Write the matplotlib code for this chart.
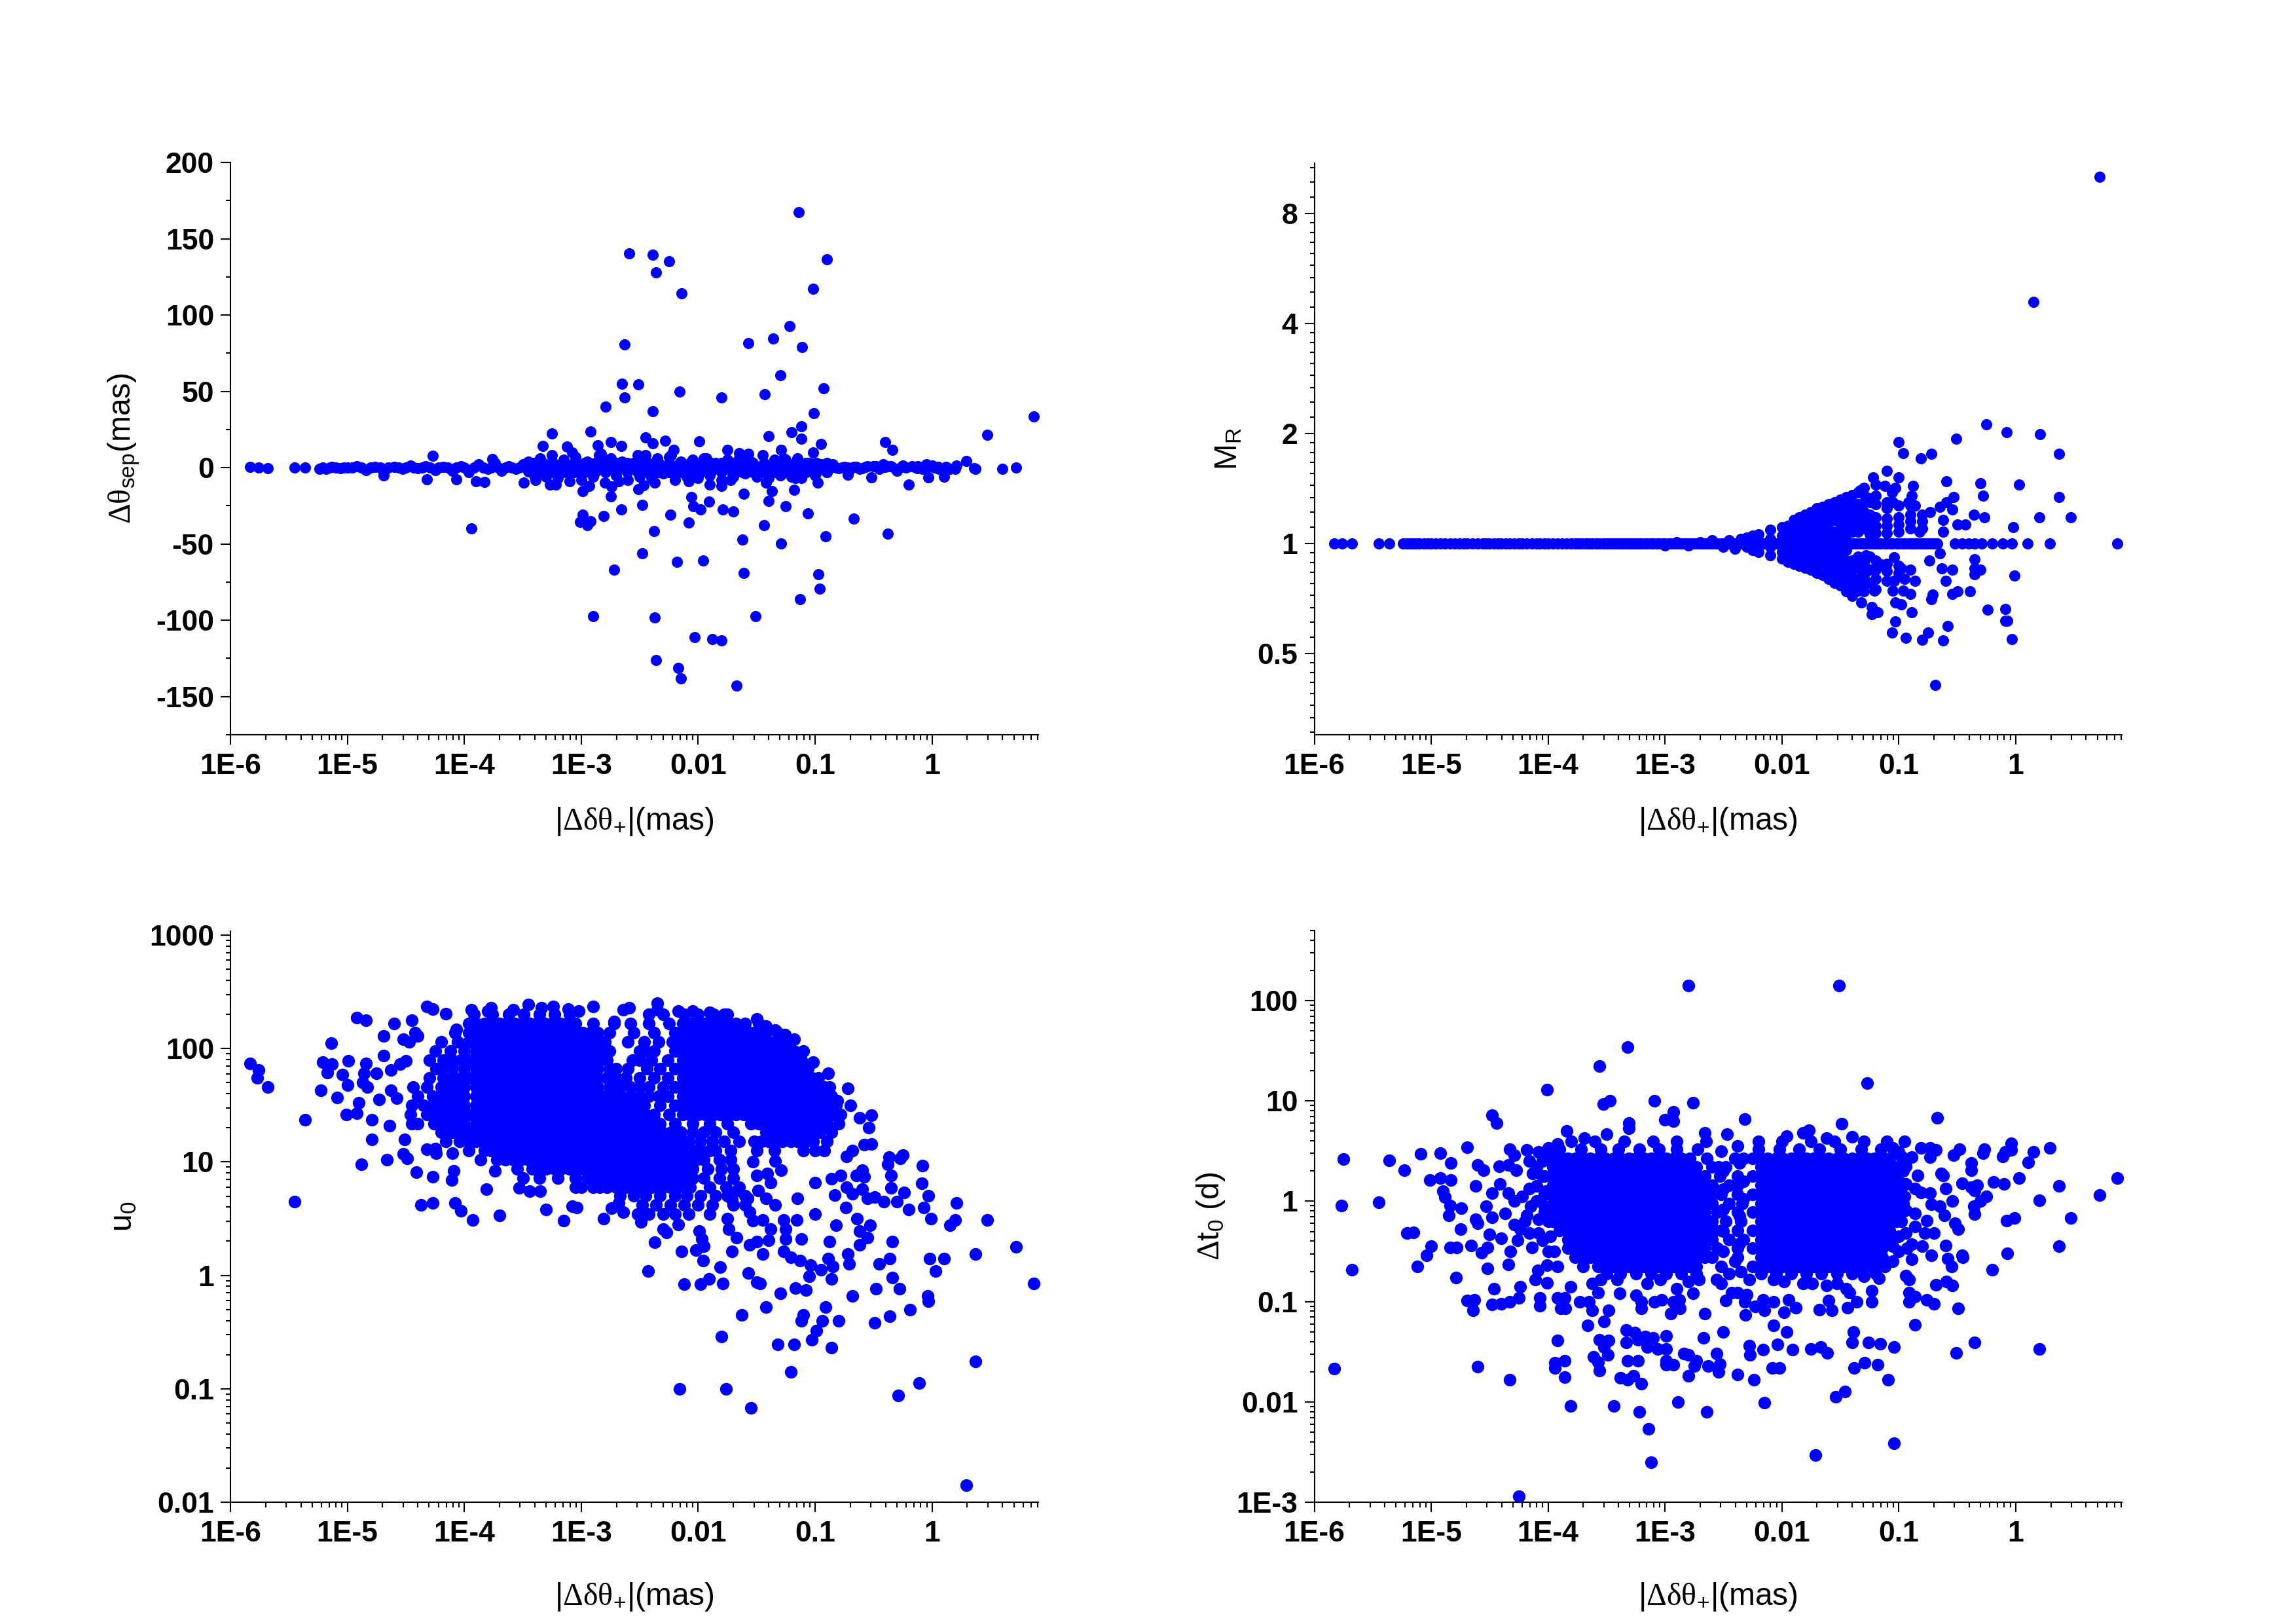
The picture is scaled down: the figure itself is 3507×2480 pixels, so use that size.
import numpy as np
import matplotlib
matplotlib.use('Agg')
import matplotlib.pyplot as plt
from matplotlib.ticker import FixedLocator, LogLocator, MultipleLocator, NullFormatter

plt.rcParams['font.family'] = ['Liberation Sans', 'DejaVu Sans']
plt.rcParams['mathtext.fontset'] = 'custom'
plt.rcParams['mathtext.rm'] = 'Liberation Sans'
plt.rcParams['mathtext.tt'] = 'Liberation Serif'
plt.rcParams['mathtext.default'] = 'rm'
plt.rcParams['axes.unicode_minus'] = False

# all x values (and the y values of the two log-log panels) are log10
x_ticks = [1e-6, 1e-5, 1e-4, 1e-3, 0.01, 0.1, 1]
x_labels = ['1E-6', '1E-5', '1E-4', '1E-3', '0.01', '0.1', '1']

# --- the thin line of points that panels 1 and 2 have in common
band_x = [-5.83, -5.76, -5.68, -5.45, -5.36, -5.24, -5.18, -5.13, -5.06, -5.0, -4.92, -4.84, -4.76, -4.69, -4.6,
          -4.53, -4.46, -4.4, -4.33, -4.25, -4.18, -4.1, -4.03, -3.96, -3.88, -3.8, -3.74, -3.68, -3.62, -3.56,
          -3.5, -3.45, -3.4, -3.35, -3.3, -3.25, -3.2, -3.15, -3.1, -3.05, -3.0, -2.95, -2.9, -2.85, -2.8, -2.75,
          -2.7, -2.65, -2.6, -2.55, -2.5, -2.45, -2.4, -2.35, -2.3, -2.25, -2.2, -2.15, -2.1, -2.05, -2.0, -1.95,
          -1.9, -1.85, -1.8, -1.75, -1.7, -1.65, -1.6, -1.55, -1.5, -1.45, -1.4, -1.35, -1.3, -1.25, -1.2, -1.15,
          -1.1, -1.05, -1.0, -0.95, -0.9, -0.85, -0.8, -0.75, -0.7, -0.65, -0.6, -0.55]
sep_band = [0.5, 0, -0.3, 0, 0.2, -1, -0.8, 0.3, -0.5, 0.2, 0.8, -1.5, 0.5, -3, 0.4, -1, 1.5, -0.5, 1, -1.5, 0.5, -2,
            1, -3, 2, -1, 3, -2, 1, -1, 2, -2.5, 3, -1, 2, -3, 1, 3, -2, 1, -2, 2, -1, 3, -2.5, 1, -1, 2, -2, 3,
            -1, 2, -3, 1, -2, 2, -1, 3, -2, 1, -3, 2, -1, 2, -2, 1, -2, 3, -1, 2, -2, 1, -3, 2, -1, 2, -1, 1.5,
            -2, 1, -1, 0.5, -1, 1, -0.5, 0.5, -1, 0.5, -0.5, 1]
band_fill_x = [-5.21, -5.15, -5.1, -5.03, -4.96, -4.88, -4.8, -4.72, -4.65, -4.56, -4.5, -4.43, -4.36, -4.29, -4.22,
               -4.14, -4.07, -4.0, -3.92, -3.84, -3.77, -3.71, -3.65, -3.59, -3.53, -3.47, -3.42, -3.37, -3.32, -3.27,
               -3.22, -3.17, -3.12, -3.07, -3.02, -2.97, -2.92, -2.87, -2.82, -2.77, -2.72, -2.67, -2.62, -2.57, -2.52,
               -2.47, -2.42, -2.37, -2.32, -2.27, -2.22, -2.17, -2.12, -2.07, -2.02, -1.97, -1.92, -1.87, -1.82, -1.77,
               -1.72, -1.67, -1.62, -1.57, -1.52, -1.47, -1.42, -1.37, -1.32, -1.27, -1.22, -1.17, -1.12, -1.07, -1.02,
               -0.97, -0.92, -0.87, -0.82, -0.77, -0.72]
# the solid middle of the band in panel 1, about +-3 mas wide
sep_thick_x = [-3.42, -3.33, -3.24, -3.15, -3.06, -2.97, -2.88, -2.79, -2.7, -2.61, -2.52, -2.43, -2.34, -2.25, -2.16,
               -2.07, -1.98, -1.89, -1.8, -1.71, -1.62, -1.53, -1.44, -1.35, -1.26, -1.17, -1.08, -0.99, -0.9]
sep_right_x = [-0.67, -0.62, -0.57, -0.5, -0.45, -0.4, -0.36, -0.31, -0.26, -0.22, -0.17, -0.13, -0.08, -0.04, 0.02,
               0.06, 0.12, 0.2]
sep_right_y = [0.5, -1, 0.5, 1, -0.5, 0.5, 1, -1, 0.5, 0, 1, -0.5, -1, 0.5, 0, -1, 0.5, -1]

# --- panel 1: delta theta_sep
sep_x = [-1.14, -2.59, -2.39, -2.25, -2.36, -0.9, -1.02, -2.14, -1.22, -1.36, -2.63, -1.57, -1.11, -1.3, -2.65,
         -2.51, -2.16, -0.93, -2.63, -1.8, -1.43, -2.79, -2.39, -1.01, 0.87, -1.12, -1.2, -3.25, -2.92, 0.47, -1.4,
         -2.45, -2.75, -2.28, -1.99, -1.12, -0.4, -0.95, -2.39, -2.86, -3.33, -3.12, -2.66, -2.21, -1.75, -0.34,
         -1.29, -1.65, -4.27, -3.76, 0.29,
         -3.94, -2.99, -2.74, -2.75, -2.66, -2.48, -2.51, -2.47, -2.81, -2.99, -3.01, -2.95, -2.92, -2.24, -2.08,
         -2.38, -2.06, -2.04, -1.98, -1.91, -1.79, -1.7, -1.61, -1.4, -1.37, -1.18, -1.25, -1.44, -1.06, -1.62,
         -1.29, -0.91, -0.67, -0.38, -2.48, -2.18, -1.96, -2.72, -1.61, -0.97, -0.96, -1.13, -2.9, -2.37, -1.51,
         -2.03, -1.88, -1.8, -2.36, -2.17, -2.15, -1.67, -0.2, -0.03, 0.1, -0.52, -0.72, -4.32, -4.07, -3.9, -3.83,
         -3.49, -3.39, -3.27, -4.69, -1.8, -1.9, -0.98, -1.12, 0.72, 0.37, 0.36, 0.15, 0.05, -0.05, -0.15, -0.25,
         -0.35, -0.42, -0.48, 0.6, 0.21, -0.45, -0.3, -0.12, 0.0,
         -3.45, -3.4, -3.35, -3.3, -3.25, -3.2, -3.15, -3.1, -3.05, -3.0, -2.95, -2.9, -2.85, -2.8, -2.75, -2.7,
         -2.65, -2.6, -2.55, -2.5, -2.45, -2.4, -2.35, -2.3, -2.25, -2.2, -2.15, -2.1, -2.05, -2.0, -1.95, -1.9,
         -1.85, -1.8, -1.75, -1.7, -1.65, -1.6, -1.55, -1.5, -1.45, -1.4, -1.35, -1.3, -1.25, -1.2, -1.15, -1.1,
         -1.05, -1.0, -0.95, -0.9, -0.85, -3.22, -3.08, -2.93, -2.83, -2.68, -2.52, -2.37, -2.23, -2.08, -1.93,
         -1.72, -1.57, -1.42, -1.27, -1.17, -1.02]
sep_y = [167.2, 140.5, 139.6, 135.4, 128, 136.6, 117, 114, 92.6, 84.4, 80.7, 81.6, 79.2, 60.4, 54.9,
         54.6, 50, 51.9, 45.8, 46.1, 48, 39.8, 37, 35.8, 33.7, 27.3, 23.4, 22.5, 23.7, 21.5, 20.6,
         20, 17, 17.6, 17.3, 18.8, 17, 15.5, 16, 14.6, 14.3, 13.7, 14.3, 11.8, 11.8, 11.5,
         11.8, 9.4, 7.9, 5.8, 4.2,
         -40, -15.5, -12.4, -19, -27.3, -24.3, -14, -11.5, -31.9, -30.7, -35.5, -37.6, -35.2, -30.7, -36,
         -41.6, -19.4, -25.2, -27.6, -22.2, -27.6, -28.5, -17.3, -21.9, -15.5, -14.6, -25.2, -37.9, -30, -47.3,
         -49.8, -45.2, -33.4, -43.4, -56.1, -61.6, -60.7, -67, -68.9, -69.8, -79.2, -86.2, -97.4, -98.3, -97.4,
         -111, -112.3, -113.2, -126.3, -131.4, -138, -143, -10.9, -6.4, -5.8, -6.4, -4.6, -7.6, -7.6, -9, -9.4,
         -9.7, -8.2, -11.2, -5.2, -12, -11, -10, -7, 0, -1, -0.5, -1, 0.5, 2, 0.5, 1.5, 1, 2, 1,
         -1, 1.5, -1, -2, 1, 1.5,
         4, -5, 6, -6, 8, -7, 5, -9, 7, -8, 4, -6, 8, -10, 6, -5, 4, -8, 3, -6, 8, -7, 6, -4, 7, -8, 4, -6, 5, -7,
         6, -5, 3, -8, 5, -6, 6, -4, 4, -6, 8, -7, 5, -5, 5, -6, 6, -4, 3, -5, 2, -3, 2, -11, 10, -12, 9, -9, 8,
         -10, 8, -9, 6, -8, 9, -10, 6, -7, 10]

# --- panel 2: M_R
mr_x = [0.72, 0.15, -0.25, -0.08, 0.21, -1.0, -0.51, -0.96, -0.72, -0.81, 0.37, -1.1, -1.22, -1.0, -0.59, -0.3,
        0.03, -1.2, -1.12, -0.88, -1.03, -1.33, -1.06, -0.89, -0.28, 0.37, -0.53, -1.24, -1.46, -1.28, -1.05,
        -0.92, -0.59, -0.54, -0.86, -0.65, -0.73, -0.36, -0.27, 0.2, 0.47, -0.62, -0.5, -0.43, -0.02, -0.62, -0.82,
        -0.69, -0.03, -0.94, -0.62, -0.8, -1.06, -0.75, -0.58, -1.03, -0.09, -0.07, -0.09, -0.24, -0.89, -1.23,
        -1.18, -1.03, -1.23, -0.98, -1.32, -0.72, -0.71, -0.9, -0.54, -0.5, -0.39, -1.05, -0.96, -1.21, -1.35,
        -0.6, -0.86, -0.95, -1.04, -0.01, -0.54, -0.35, -0.35, -0.3, -0.63, -0.98, -1.15, -1.04, -0.65, -0.35,
        -0.74, -1.28,
        -0.72, -0.67, -0.52, -0.46, -0.4, -0.35, -0.29, -0.2, -0.11, -0.03, 0.1, 0.29, 0.87,
        -3.0, -2.9, -2.8, -2.7, -2.6, -2.5, -2.45, -2.4, -2.35, -2.3, -2.3, -2.25, -2.25]
mr_y = [10.1, 4.59, 2.12, 2.02, 1.99, 1.9, 1.94, 1.77, 1.76, 1.71, 1.76, 1.58, 1.52, 1.52, 1.48, 1.46,
        1.45, 1.45, 1.44, 1.44, 1.42, 1.4, 1.38, 1.35, 1.35, 1.34, 1.34, 1.33, 1.33, 1.34, 1.3,
        1.3, 1.3, 1.24, 1.27, 1.26, 1.22, 1.2, 1.18, 1.18, 1.18, 1.16, 1.13, 1.13, 1.11, 1.08, 1.08,
        0.41, 0.547, 0.552, 0.543, 0.546, 0.572, 0.572, 0.595, 0.613, 0.615, 0.615, 0.663, 0.66, 0.648, 0.642,
        0.648, 0.69, 0.672, 0.683, 0.69, 0.705, 0.726, 0.728, 0.728, 0.739, 0.741, 0.743, 0.743, 0.743, 0.743,
        0.79, 0.79, 0.8, 0.79, 0.818, 0.847, 0.825, 0.857, 0.847, 0.854, 0.854, 0.877, 0.916, 0.94, 0.906,
        0.898, 0.93,
        1, 1, 1, 1, 1, 1, 1, 1, 1, 1, 1, 1, 1,
        0.99, 1.01, 0.99, 1.01, 1.02, 0.98, 1.02, 0.97, 1.03, 0.98, 1.04, 0.96, 1.05]
# columns of the cone around 0.01-0.1 mas: (log10 x, M_R values)
mr_cone = [
    (-2.2, [1.06, 1.0, 0.95]),
    (-2.1, [1.09, 1.03, 0.98, 0.93]),
    (-2.0, [1.11, 1.05, 1.0, 0.95, 0.91]),
    (-1.95, [1.12, 1.07, 1.02, 0.97, 0.93, 0.89]),
    (-1.9, [1.16, 1.09, 1.03, 0.97, 0.92, 0.88]),
    (-1.85, [1.18, 1.11, 1.05, 0.99, 0.94, 0.9, 0.87]),
    (-1.8, [1.2, 1.13, 1.06, 1.0, 0.94, 0.89, 0.86]),
    (-1.75, [1.22, 1.15, 1.08, 1.02, 0.96, 0.9, 0.85]),
    (-1.7, [1.25, 1.17, 1.1, 1.04, 0.98, 0.92, 0.87, 0.83]),
    (-1.65, [1.26, 1.19, 1.12, 1.05, 0.99, 0.93, 0.88, 0.82]),
    (-1.6, [1.28, 1.21, 1.14, 1.07, 1.0, 0.94, 0.89, 0.84, 0.8]),
    (-1.55, [1.3, 1.23, 1.16, 1.08, 1.02, 0.96, 0.9, 0.85, 0.8, 0.78]),
    (-1.5, [1.32, 1.25, 1.17, 1.1, 1.04, 0.97, 0.91, 0.86, 0.81, 0.77]),
    (-1.45, [1.34, 1.27, 1.2, 1.12, 1.06, 0.96, 0.9, 0.84, 0.79, 0.74]),
    (-1.4, [1.36, 1.29, 1.22, 1.15, 1.08, 1.0, 0.9, 0.85, 0.8, 0.76, 0.72]),
    (-1.35, [1.38, 1.28, 1.2, 1.13, 1.08, 0.92, 0.86, 0.8, 0.75]),
    (-1.3, [1.42, 1.3, 1.22, 1.15, 1.1, 1.0, 0.88, 0.82, 0.78, 0.74]),
    (-1.25, [1.3, 1.2, 1.12, 1.06, 0.92, 0.85, 0.78]),
    (-1.2, [1.35, 1.28, 1.18, 1.12, 1.07, 1.0, 0.9, 0.85, 0.8, 0.75]),
    (-1.1, [1.3, 1.25, 1.17, 1.12, 1.07, 1.0, 0.88, 0.84, 0.79]),
    (-1.0, [1.27, 1.18, 1.13, 1.08, 1.0, 0.87, 0.83]),
    (-0.9, [1.27, 1.2, 1.15, 1.1, 1.0, 0.85]),
    (-0.8, [1.2, 1.15, 1.1, 1.0]),
]

# --- panel 3: u0, scattered points
u0_x = [-5.83, -5.76, -5.77, -5.68, -5.36, -5.45, -5.23, -5.21, -5.13, -5.14, -5.17, -5.09, -5.04, -4.99, -5, -5.01,
        -4.92, -4.9, -4.92, -4.84, -4.84, -4.86, -4.87, -4.83, -4.75, -4.79, -4.79, -4.88, -4.73, -4.69, -4.69,
        -4.6, -4.64, -4.66, -4.63, -4.63, -4.58, -4.55, -4.5, -4.52, -4.45, -4.42, -4.4, -4.47, -4.51, -4.52,
        -4.49, -4.41, -4.46, -4.45, -4.4, -4.37, -4.27, -4.27, -4.32, -4.25, -4.24, -4.32, -4.27, -4.16, -4.07,
        -3.94, -3.77, -4.11, -4.09, -4.1, -4.08, -4.03, -3.93, -3.81, -3.7, -3.74, -3.53, -3.44, -3.35, -3.3,
        -3.15, -3.08, -3.04, -2.81, -2.74, -2.68, -2.64, -2.67, -2.52, -2.49, -2.37, -2.43, -2.3, -2.27, -2.17,
        -2.14, -2.12, -2.02, -1.99, -1.97, -1.95, -1.96, -1.98, -1.91, -1.81, -1.79, -1.8, -2.16, -1.76, -1.55,
        -1.63, -1.42, -1.57, -1.5, -1.47, -1.71, -1.74, -1.67, -1.75, -1.56, -1.45, -1.5, -1.4, -1.38, -1.32,
        -1.18, -1.21, -1.3, -1.17, -1.08, -1.12, -1.1, -1.03, -0.99, -0.94, -0.91, -0.86, -0.8, -0.86, -1.05,
        -1.27, -1.21, -1.13, -1.04, -0.85, -0.89, -0.95, -0.88, -0.82, -1, -1.15, -1.16, -1.27, -1.25, -1.12,
        -1.25, -0.72, -0.71, -0.68, -0.62, -0.64, -0.62, -0.55, -0.53, -0.45, -0.48, -0.49, -0.36, -0.34, -0.28,
        -0.36, -0.34, -0.29, -0.11, -0.19, -0.04, -0.03, -0.02, 0.03, 0.1, 0.37, 0.37, 0.29, 0.72, 0.87, 0.47,
        0.15, 0.2, 0.21, -0.01, -0.07, -0.03, -0.09, -0.08, -0.2, -0.24, -0.35, -0.35, -0.25, -0.27, -0.38, -0.37,
        -0.3, -0.41, -0.49, -0.52, -0.58, -0.68, -0.73, -0.52, -0.54, -0.62, -0.72, -0.7, -0.81, -0.6, -0.65,
        -0.58, -0.6, -0.55, -0.68, -0.73, -0.74, -0.83, -1, -0.86, -0.78, -1.34, -1.42, -1.49, -1.58, -1.56,
        -1.53, -1.45, -1.38, -1.41, -1.5, -1.53, -1.29, -1.34, -1.66, -1.71]
u0_y = [1.87, 1.81, 1.74, 1.66, 1.37, 0.65, 1.63, 1.88, 1.86, 2.05, 1.79, 1.57, 1.77, 1.89, 1.68, 1.42,
        1.43, 1.52, 2.27, 2.25, 1.87, 1.78, 1.7, 1.66, 1.78, 1.37, 1.2, 0.98, 1.55, 1.94, 2.11,
        2.22, 1.32, 1.02, 1.81, 1.63, 1.56, 1.86, 1.89, 2.08, 2.25, 2.14, 2.11, 2.06, 1.2, 1.07,
        1.03, 0.91, 1.42, 1.34, 1.34, 0.62, 0.64, 0.87, 1.11, 1.12, 1.08, 2.37, 2.35, 2.31, 2.17,
        2.34, 2.36, 0.84, 0.92, 1.08, 0.64, 0.57, 0.49, 0.76, 0.53, 0.92, 0.77, 0.74, 0.74, 0.58,
        0.48, 0.61, 0.6, 0.5, 0.59, 0.64, 0.56, 0.7, 0.54, 0.47, 0.29, 0.04, 0.41, 0.38, 0.45,
        0.21, -0.08, 0.22, 0.39, 0.32, 0.26, 0.13, -0.08, -0.03, 0.07, -0.07, -0.54, -1.0, -1.0, -1.17,
        -0.35, -0.28, 0.02, -0.06, -0.07, 0.21, 0.41, 0.33, 0.5, 0.27, 0.19, 0.3, 0.31, 0.41, -0.61,
        -0.61, -0.85, -0.16, -0.11, -0.13, -0.4, -0.35, -0.57, -0.49, -0.4, -0.28, -0.64, -0.4, -0.03, -0.01,
        0.21, 0.16, 0.13, 0.09, 0.08, 0.15, 0.05, 0.3, 0.44, 0.54, 0.68, 0.49, 0.49, 0.41, 0.32,
        0.32, 0.19, 0.1, -0.18, 0.27, 0.5, 0.39, 0.33, 0.44, 0.1, -0.12, -0.42, -0.36, -0.02, -0.12,
        0.15, 0.3, -1.06, -0.95, -0.3, -0.18, -0.23, 0.15, 0.04, 0.15, 0.19, -0.76, -1.85, 0.25, -0.07, 0.49,
        0.44, 0.49, 0.64, 0.5, 0.6, 0.7, 0.81, 0.97, 0.58, 0.73, 0.77, 0.88, 1.06, 1.03, 0.98, 1.04,
        0.65, 0.65, 0.69, 1.16, 1.15, 1.1, 1.05, 1.41, 1.3, 1.39, 1.65, 1.5, 1.54, 0.93, 0.88,
        0.87, 0.76, 0.68, 0.72, 0.78, 0.6, 0.71, 0.82, 0.85, 0.88, 0.62, 0.68, 0.75, 0.68, 0.56,
        0.48, 0.49, 0.82, 0.9, 0.88, 1.0, 0.93, 1.01, 0.75, 0.67]
# points on the upper edge of the cloud
u0_edge_x = [-3.45, -3.24, -3.11, -2.9, -3.8, -2.35, -2.35, -2.17, -1.9, -1.5, -1.66, -1.34, -1.18, -2.64, -2.59,
             -2.72, -1.02, -0.89, -3.58, -3.34, -3.02, -2.05, -1.78, -1.42, -1.26, -1.1]
u0_edge_y = [2.39, 2.37, 2.35, 2.37, 2.33, 2.4, 2.34, 2.33, 2.32, 2.26, 2.2, 2.16, 2.08, 2.34, 2.36,
             2.24, 1.88, 1.78, 2.34, 2.36, 2.33, 2.33, 2.3, 2.2, 2.12, 1.98]
# rows of the dense cloud: (log10 u0, log10 x values)
u0_rows = [
    (2.3, [-3.92, -3.76, -3.62, -3.49, -3.36, -3.23, -3.1, -2.42, -2.3, -2.12, -2.0, -1.87, -1.75]),
    (2.22, [-3.96, -3.83, -3.7, -3.57, -3.44, -3.31, -3.18, -3.05, -2.9, -2.72, -2.58, -2.42, -2.25, -2.13, -2.0, -1.87, -1.74, -1.6, -1.48]),
    (2.14, [-4.08, -3.9, -3.77, -3.64, -3.51, -3.38, -3.25, -3.12, -2.99, -2.86, -2.76, -2.55, -2.38, -2.2, -2.07, -1.94, -1.81, -1.68, -1.55, -1.42, -1.32]),
    (2.06, [-4.2, -4.06, -3.96, -3.83, -3.7, -3.57, -3.44, -3.31, -3.18, -3.05, -2.92, -2.8, -2.6, -2.46, -2.34, -2.22, -2.13, -2.0, -1.87, -1.74, -1.61, -1.48, -1.35, -1.24]),
    (1.98, [-4.25, -4.12, -3.9, -3.77, -3.64, -3.51, -3.38, -3.25, -3.12, -2.99, -2.86, -2.76, -2.5, -2.38, -2.2, -2.07, -1.94, -1.81, -1.68, -1.55, -1.42, -1.29, -1.18]),
    (1.9, [-4.3, -4.18, -4.03, -3.96, -3.83, -3.7, -3.57, -3.44, -3.31, -3.18, -3.05, -2.92, -2.78, -2.56, -2.4, -2.26, -2.13, -2.0, -1.87, -1.74, -1.61, -1.48, -1.35, -1.22, -1.12]),
    (1.82, [-4.24, -4.1, -3.9, -3.77, -3.64, -3.51, -3.38, -3.25, -3.12, -2.99, -2.86, -2.76, -2.6, -2.44, -2.2, -2.07, -1.94, -1.81, -1.68, -1.55, -1.42, -1.29, -1.16, -1.06]),
    (1.74, [-4.3, -4.18, -4.03, -3.96, -3.83, -3.7, -3.57, -3.44, -3.31, -3.18, -3.05, -2.92, -2.78, -2.62, -2.38, -2.26, -2.13, -2.0, -1.87, -1.74, -1.61, -1.48, -1.35, -1.22, -1.09, -0.97]),
    (1.66, [-4.44, -4.32, -4.2, -4.08, -3.9, -3.77, -3.64, -3.51, -3.38, -3.25, -3.12, -2.99, -2.86, -2.76, -2.58, -2.42, -2.2, -2.07, -1.94, -1.81, -1.68, -1.55, -1.42, -1.29, -1.16, -1.03, -0.92, -0.88]),
    (1.58, [-4.4, -4.27, -4.13, -4.0, -3.83, -3.7, -3.57, -3.44, -3.31, -3.18, -3.05, -2.92, -2.8, -2.66, -2.5, -2.34, -2.26, -2.13, -2.0, -1.87, -1.74, -1.61, -1.48, -1.35, -1.22, -1.09, -0.96, -0.86]),
    (1.5, [-4.45, -4.35, -4.2, -4.07, -3.9, -3.77, -3.64, -3.51, -3.38, -3.25, -3.12, -2.99, -2.86, -2.74, -2.6, -2.46, -2.2, -2.07, -1.94, -1.81, -1.68, -1.55, -1.42, -1.29, -1.16, -1.03, -0.9, -0.82]),
    (1.42, [-4.32, -4.19, -4.05, -3.96, -3.83, -3.7, -3.57, -3.44, -3.31, -3.18, -3.05, -2.92, -2.78, -2.64, -2.52, -2.38, -2.13, -2.0, -1.87, -1.74, -1.61, -1.48, -1.35, -1.22, -1.09, -0.96, -0.84, -0.78]),
    (1.34, [-4.26, -4.12, -4.0, -3.9, -3.77, -3.64, -3.51, -3.38, -3.25, -3.12, -2.99, -2.86, -2.72, -2.58, -2.46, -2.33, -2.05, -1.55, -1.42, -1.29, -1.16, -1.03, -0.9, -0.8]),
    (1.26, [-4.2, -4.1, -3.96, -3.83, -3.7, -3.57, -3.44, -3.31, -3.18, -3.05, -2.92, -2.8, -2.7, -2.58, -2.43, -2.31, -2.15, -1.95, -1.85, -1.7, -1.35, -1.22, -1.09, -0.96, -0.86]),
    (1.18, [-4.16, -4.04, -3.9, -3.77, -3.64, -3.51, -3.38, -3.25, -3.12, -2.99, -2.86, -2.73, -2.6, -2.47, -2.34, -2.2, -2.08, -1.98, -1.78, -1.65, -1.52, -1.4, -1.28, -1.15, -1.02, -0.9]),
    (1.1, [-3.96, -3.83, -3.7, -3.57, -3.44, -3.31, -3.18, -3.05, -2.92, -2.85, -2.72, -2.6, -2.48, -2.35, -2.22, -2.1, -1.98, -1.85, -1.72, -1.5, -1.35, -1.1, -1.0, -0.92]),
    (1.02, [-3.86, -3.72, -3.58, -3.45, -3.32, -3.19, -3.06, -2.95, -2.84, -2.72, -2.6, -2.48, -2.35, -2.22, -2.1, -1.95, -1.82, -1.72]),
    (0.94, [-3.55, -3.42, -3.3, -3.17, -3.04, -2.92, -2.8, -2.68, -2.55, -2.42, -2.3, -2.17, -2.05, -1.92, -1.8, -1.7]),
    (0.86, [-3.5, -3.36, -3.2, -3.05, -2.95, -2.8, -2.68, -2.55, -2.43, -2.3, -2.2, -2.05, -1.95, -1.82, -1.7]),
    (0.78, [-3.05, -3.0, -2.9, -2.78, -2.62, -2.5, -2.4, -2.3, -2.18, -2.07, -1.9, -1.76, -1.65]),
    (0.7, [-2.55, -2.45, -2.33, -2.2, -2.1, -1.98, -1.85, -1.75, -1.6]),
    (0.62, [-2.48, -2.36, -2.24, -2.12, -2.0, -1.88, -1.7, -1.6]),
    (0.54, [-2.42, -2.3, -2.2, -2.08, -1.9]),
    # second pass over the same levels: the solid parts, where single points cannot be told apart
    (2.22, [-3.9, -3.77, -3.64, -3.51, -3.38, -3.25, -3.12, -2.07, -1.94, -1.81, -1.68]),
    (2.14, [-3.96, -3.83, -3.7, -3.57, -3.44, -3.31, -3.18, -3.05, -2.92, -2.13, -2.0, -1.87, -1.74, -1.61, -1.48]),
    (2.06, [-3.9, -3.77, -3.64, -3.51, -3.38, -3.25, -3.12, -2.99, -2.86, -2.07, -1.94, -1.81, -1.68, -1.55, -1.42, -1.29]),
    (1.98, [-4.0, -3.83, -3.7, -3.57, -3.44, -3.31, -3.18, -3.05, -2.92, -2.8, -2.45, -2.13, -2.0, -1.87, -1.74, -1.61, -1.48, -1.35, -1.22]),
    (1.9, [-4.1, -3.9, -3.77, -3.64, -3.51, -3.38, -3.25, -3.12, -2.99, -2.86, -2.5, -2.07, -1.94, -1.81, -1.68, -1.55, -1.42, -1.29, -1.16]),
    (1.82, [-4.18, -4.0, -3.83, -3.7, -3.57, -3.44, -3.31, -3.18, -3.05, -2.92, -2.7, -2.33, -2.13, -2.0, -1.87, -1.74, -1.61, -1.48, -1.35, -1.22, -1.1]),
    (1.74, [-4.1, -3.9, -3.77, -3.64, -3.51, -3.38, -3.25, -3.12, -2.99, -2.86, -2.7, -2.5, -2.07, -1.94, -1.81, -1.68, -1.55, -1.42, -1.29, -1.16, -1.03]),
    (1.66, [-4.14, -4.0, -3.83, -3.7, -3.57, -3.44, -3.31, -3.18, -3.05, -2.92, -2.67, -2.5, -2.3, -2.13, -2.0, -1.87, -1.74, -1.61, -1.48, -1.35, -1.22, -1.09, -0.97]),
    (1.58, [-4.2, -4.07, -3.9, -3.77, -3.64, -3.51, -3.38, -3.25, -3.12, -2.99, -2.86, -2.73, -2.58, -2.42, -2.07, -1.94, -1.81, -1.68, -1.55, -1.42, -1.29, -1.16, -1.03, -0.9]),
    (1.5, [-4.27, -4.13, -4.0, -3.83, -3.7, -3.57, -3.44, -3.31, -3.18, -3.05, -2.92, -2.8, -2.67, -2.53, -2.33, -2.13, -2.0, -1.87, -1.74, -1.61, -1.48, -1.35, -1.22, -1.09, -0.96]),
    (1.42, [-4.26, -4.12, -3.9, -3.77, -3.64, -3.51, -3.38, -3.25, -3.12, -2.99, -2.86, -2.71, -2.58, -2.45, -2.25, -2.07, -1.94, -1.81, -1.68, -1.55, -1.42, -1.29, -1.16, -1.03, -0.9]),
    (1.34, [-4.19, -4.06, -3.83, -3.7, -3.57, -3.44, -3.31, -3.18, -3.05, -2.92, -2.79, -2.65, -2.52, -2.4, -2.2, -1.9, -1.75, -1.48, -1.35, -1.22, -1.09, -0.96]),
    (1.26, [-4.03, -3.9, -3.77, -3.64, -3.51, -3.38, -3.25, -3.12, -2.99, -2.86, -2.75, -2.64, -2.5, -2.37, -2.23, -2.05, -1.42, -1.29, -1.16, -1.03]),
    (1.18, [-3.96, -3.83, -3.7, -3.57, -3.44, -3.31, -3.18, -3.05, -2.92, -2.79, -2.66, -2.53, -2.4, -2.27, -2.14, -1.88, -1.46, -1.34, -1.21, -1.08]),
    (1.1, [-3.77, -3.64, -3.51, -3.38, -3.25, -3.12, -2.99, -2.79, -2.66, -2.54, -2.41, -2.28, -2.16, -2.04, -1.9]),
    (1.02, [-3.65, -3.52, -3.38, -3.25, -3.12, -3.0, -2.9, -2.78, -2.66, -2.54, -2.41, -2.28, -2.16, -2.02]),
    (0.94, [-3.36, -3.23, -3.1, -2.98, -2.86, -2.74, -2.61, -2.48, -2.36, -2.23, -2.11]),
    (0.86, [-2.88, -2.74, -2.61, -2.49, -2.36, -2.25, -2.12]),
    (0.78, [-2.84, -2.7, -2.56, -2.45, -2.35, -2.24, -2.12]),
]

# --- panel 4: delta t0, scattered points
dt_x = [-2.8, -1.51, -3.32, -3.56, -1.27, -4.01, -3.53, -3.47, -3.09, -2.76, -2.93, -3.0, -2.93, -4.48, -4.44, -3.31,
        -3.31, -3.84, -2.32, -1.49, -0.67, -3.5, -3.69, -2.66, -2.47, -1.77, -1.82, -1.96, -1.4, -1.62,
        -5.83, -5.77, -5.75, -5.68, -5.45, -5.36, -5.23, -5.09, -5.01, -4.92, -4.92, -4.83, -4.83, -4.69, -4.9,
        -4.88, -4.84, -4.85, -4.74, -4.75, -5.21, -5.15, -5.04, -5.0, -5.12, -4.84, -4.78, -4.66, -4.79, -4.69,
        -4.63, -4.64, -4.6, -4.48, -4.4, -4.33, -4.46, -4.52, -4.34, -4.24, -4.25, -4.33, -4.25, -4.57, -4.52,
        -4.62, -4.62, -4.6, -4.6, -4.55, -4.53, -4.48, -4.48, -4.5, -4.42, -4.33, -4.29, -4.27, -4.34, -4.41,
        -4.34, -4.29, -4.37, -4.29, -4.24, -4.4, -4.32, -4.26, -4.18, -4.16, -4.13, -4.08, -4.0, -3.92, -4.05,
        -4.16, -4.1, -4.18, -4.08, -4.16, -4.08, -4.14, -4.05, -4.0, -4.11, -4.09, -4.01, -4.07, -4.07, -4.01,
        -3.92, -3.92, -3.86, -3.89, -3.85, -3.81, -3.73, -3.65, -3.62, -3.62, -3.55, -3.57, -3.48, -3.39, -3.41,
        -3.25, -3.2, -3.2, -3.09, -3.03, -3.15, -3.04, -2.9, -2.93, -2.95, -2.87, -2.88, -2.76, -2.8, -2.71,
        -2.66, -2.56, -2.52, -2.48, -2.43, -2.38, -2.32, -2.31, -2.3, -2.28, -2.23, -2.16, -2.15, -2.07, -2.07,
        -1.98, -1.94, -1.88, -1.98, -1.82, -1.74, -1.68, -1.6, -1.57, -1.62, -1.53, -1.45, -1.42, -1.44, -1.36,
        -1.23, -1.23, -1.17, -0.91, -0.94, -0.91, -0.91, -0.86, -0.76, -0.7, -0.68, -0.59, -0.54, -0.49, -0.86,
        -3.66, -3.52, -3.92, -3.56, -3.48, -3.52, -3.49, -3.61, -3.57, -3.56, -3.94, -3.94, -3.86, -3.86, -3.81,
        -3.44, -3.22, -3.14, -3.12, -3.33, -3.26, -3.33, -3.23, -3.17, -3.1, -3.15, -3.06, -2.99, -2.99, -3.32,
        -3.23, -3.38, -3.32, -3.27, -3.2, -2.99, -2.99, -2.93, -2.84, -2.8, -2.73, -2.75, -2.8, -2.89, -2.64,
        -2.67, -2.5, -2.56, -2.63, -2.53, -2.54, -2.38, -2.28, -2.27, -2.24, -2.16, -2.15, -2.07, -2.04, -2.08,
        -2.02, -1.96, -1.91, -1.75, -1.67, -1.61, -1.71, -1.54, -1.46, -1.39, -1.4, -1.26, -1.16, -1.38, -1.29,
        -1.18, -1.09, -1.04, -1.04, -0.51, -0.35, 0.2,
        -0.81, -0.73, -0.68, -0.53, -0.48, -0.38, -0.38, -0.27, -0.28, -0.11, -0.09, -0.04, -0.04, 0.15, 0.29, 0.11,
        0.03, 0.37, 0.87, 0.72, 0.2, 0.47, 0.37, -0.2, -0.07, -0.01, -0.08, -0.19, -0.1, -0.54, -0.49, -0.52,
        -0.61, -0.65, -0.72, -0.76, -0.7, -0.78, -0.6, -0.46, -0.45, -0.58, -0.55, -0.72, -0.8, -0.89, -0.93,
        -0.89, -1, -0.94, -0.86, -0.94, -0.86, -0.81, -0.86, -0.73, -0.62, -0.64, -0.6, -0.46, -0.38, -0.33,
        -0.35, -0.36, -0.3, -0.25, -0.35, -0.73, -0.89, -1, -1.05, -0.94, -0.84, -0.94]
dt_y = [2.15, 2.15, 1.54, 1.35, 1.18, 1.11, 0.97, 1.0, 1.0, 0.98, 0.89, 0.81, 0.8, 0.86, 0.78, 0.78,
        0.73, 0.7, 0.82, 0.77, 0.83, 0.67, 0.63, 0.68, 0.67, 0.71, 0.68, 0.65, 0.64, 0.63,
        -1.67, -0.04, 0.42, -0.68, -0.01, 0.41, 0.31, 0.47, 0.21, 0.48, 0.23, 0.38, 0.21, 0.54, 0.1,
        0.04, -0.04, -0.14, -0.07, -0.28, -0.32, -0.31, -0.54, -0.45, -0.65, -0.46, -0.46, -0.44, -0.76, -0.99,
        -0.98, -1.09, -1.65, -1.03, -1.02, -1.0, -0.87, -0.67, -0.63, -0.85, -0.96, -1.78, -2.94, -0.51, -0.46,
        0.15, -0.18, -0.22, 0.36, 0.31, -0.05, 0.08, -0.16, -0.33, 0.35, 0.52, 0.46, 0.31, 0.36, 0.17,
        0.08, 0, -0.12, -0.23, -0.28, -0.37, -0.5, -0.39, 0.51, 0.4, 0.28, 0.49, 0.53, 0.57, 0.4,
        0.13, 0, -0.14, -0.18, -0.32, -0.32, -0.46, -0.39, -0.5, -0.78, -0.69, -0.64, -0.96, -1.04, -0.81,
        -0.65, -0.96, -0.96, -1.07, -1.07, -0.85, -1.0, -1.0, -1.09, -0.82, -0.78, -0.91, -1.09, -0.92, -0.78,
        -0.94, -1.0, -1.07, -1.0, -0.98, -0.82, -0.78, -0.87, -1.0, -1.12, -1.07, -0.98, -0.92, -0.8, -0.78,
        -1.12, -0.78, -0.82, -0.99, -0.91, -0.91, -1.0, -1.13, -0.93, -0.78, -1.05, -0.98, -1.09, -1.0, -0.78,
        -0.8, -0.98, -1.06, -1.11, -0.82, -0.82, -1.08, -0.99, -1.09, -0.84, -0.82, -0.87, -0.91, -1.06, -1.0,
        -0.89, -1.0, -0.77, -0.78, -0.74, -0.91, -1.0, -0.95, -0.98, -1.02, -0.83, -0.8, -0.84, -1.07, -1.23,
        -1.24, -1.2, -1.39, -1.38, -1.39, -1.45, -1.53, -1.55, -1.6, -1.69, -1.61, -1.66, -1.59, -1.75, -2.04,
        -2.04, -2.1, -2.27, -2.6, -1.28, -1.31, -1.41, -1.38, -1.35, -1.36, -1.45, -1.47, -1.34, -1.47, -1.59,
        -1.59, -1.76, -1.78, -1.74, -1.82, -1.59, -1.63, -1.63, -1.52, -1.53, -1.59, -1.64, -1.74, -2.0, -2.1,
        -1.36, -1.3, -1.52, -1.64, -1.62, -1.7, -1.73, -1.44, -1.53, -1.78, -1.48, -2.01, -1.24, -1.43, -1.66,
        -1.66, -1.3, -1.48, -1.47, -1.45, -1.51, -2.53, -1.95, -1.9, -1.3, -1.41, -1.41, -1.42, -1.66, -1.61,
        -1.63, -1.78, -1.45, -2.41, -1.51, -1.41, -1.47,
        0.53, 0.53, 0.51, 0.46, 0.52, 0.31, 0.38, 0.52, 0.48, 0.45, 0.49, 0.58, 0.51, 0.49, 0.53, 0.39,
        0.23, 0.15, 0.23, 0.06, 0.01, -0.17, -0.45, -0.68, -0.52, -0.17, -0.19, 0.19, 0.17, 0, -0.28, -0.22,
        -0.14, -0.05, -0.03, -0.19, -0.32, -0.32, -0.44, -0.54, -0.56, -0.57, -0.65, -0.54, -0.45, -0.58, -0.47,
        -0.43, -0.5, -0.32, -0.25, -0.09, -0.12, 0.09, 0.13, 0.08, 0.26, 0.28, 0.13, 0.18, 0.14, 0.16,
        0.11, -0.05, 0, 0.05, -0.13, 0.44, 0.44, 0.49, 0.53, 0.35, 0.26, 0.17]
# points round the edges of the cloud and in the gap between its two lobes
dt_edge_x = [-2.52, -2.38, -2.5, -2.36, -2.33, -2.5, -2.33, -2.5, -2.36, -2.5, -2.36, -2.5, -2.4, -2.35,
             -3.8, -3.6, -3.35, -3.1, -2.9, -2.65, -2.2, -2.0, -1.75, -1.55, -1.3, -1.1, -0.95,
             -4.05, -4.02, -4.03, -4.0, -3.98, -3.95, -4.1, -4.15, -4.2, -4.22, -3.95, -4.05,
             -0.98, -0.96, -0.98, -0.95, -0.97, -0.98, -1.0, -1.05, -1.05, -1.12, -1.2, -1.3]
dt_edge_y = [0.5, 0.55, 0.3, 0.38, 0.2, 0.12, 0.02, -0.08, -0.15, -0.3, -0.42, -0.5, -0.6, -0.7,
             0.6, 0.6, 0.6, 0.6, 0.6, 0.6, 0.6, 0.6, 0.6, 0.6, 0.6, 0.6, 0.6,
             0.25, 0.1, -0.05, -0.2, -0.35, -0.5, 0.15, -0.05, -0.2, 0.05, 0.52, 0.45,
             0.45, 0.3, 0.18, 0.05, -0.1, -0.2, -0.35, -0.45, -0.6, -0.65, -0.72, -0.75]
# rows of the dense cloud: (log10 dt0, log10 x values)
dt_rows = [
    (0.52, [-3.9, -3.72, -3.55, -3.4, -3.22, -3.05, -2.9, -2.72, -2.2, -2.02, -1.85, -1.68, -1.5, -1.32, -1.15]),
    (0.43, [-3.96, -3.83, -3.7, -3.57, -3.44, -3.31, -3.18, -3.05, -2.92, -2.79, -2.64, -2.4, -2.25, -2.12, -1.99, -1.86, -1.73, -1.6, -1.47, -1.34, -1.21, -1.08]),
    (0.34, [-3.9, -3.77, -3.64, -3.51, -3.38, -3.25, -3.12, -2.99, -2.86, -2.73, -2.6, -2.48, -2.18, -2.05, -1.92, -1.79, -1.66, -1.53, -1.4, -1.27, -1.14, -1.02]),
    (0.25, [-3.96, -3.83, -3.7, -3.57, -3.44, -3.31, -3.18, -3.05, -2.92, -2.79, -2.66, -2.38, -2.25, -2.12, -1.99, -1.86, -1.73, -1.6, -1.47, -1.34, -1.21, -1.08]),
    (0.16, [-3.9, -3.77, -3.64, -3.51, -3.38, -3.25, -3.12, -2.99, -2.86, -2.73, -2.6, -2.45, -2.18, -2.05, -1.92, -1.79, -1.66, -1.53, -1.4, -1.27, -1.14, -1.02]),
    (0.07, [-3.96, -3.83, -3.7, -3.57, -3.44, -3.31, -3.18, -3.05, -2.92, -2.79, -2.66, -2.52, -2.38, -2.25, -2.12, -1.99, -1.86, -1.73, -1.6, -1.47, -1.34, -1.21, -1.08]),
    (-0.02, [-3.9, -3.77, -3.64, -3.51, -3.38, -3.25, -3.12, -2.99, -2.86, -2.73, -2.6, -2.45, -2.18, -2.05, -1.92, -1.79, -1.66, -1.53, -1.4, -1.27, -1.14, -1.02]),
    (-0.11, [-3.96, -3.83, -3.7, -3.57, -3.44, -3.31, -3.18, -3.05, -2.92, -2.79, -2.66, -2.38, -2.25, -2.12, -1.99, -1.86, -1.73, -1.6, -1.47, -1.34, -1.21, -1.08]),
    (-0.2, [-3.9, -3.77, -3.64, -3.51, -3.38, -3.25, -3.12, -2.99, -2.86, -2.73, -2.6, -2.48, -2.18, -2.05, -1.92, -1.79, -1.66, -1.53, -1.4, -1.27, -1.14, -1.02]),
    (-0.29, [-3.83, -3.7, -3.57, -3.44, -3.31, -3.18, -3.05, -2.92, -2.79, -2.66, -2.52, -2.38, -2.25, -2.12, -1.99, -1.86, -1.73, -1.6, -1.47, -1.34, -1.21, -1.08]),
    (-0.38, [-3.77, -3.64, -3.51, -3.38, -3.25, -3.12, -2.99, -2.86, -2.73, -2.6, -2.45, -2.18, -2.05, -1.92, -1.79, -1.66, -1.53, -1.4, -1.27, -1.14]),
    (-0.47, [-3.83, -3.7, -3.57, -3.44, -3.31, -3.18, -3.05, -2.92, -2.79, -2.66, -2.38, -2.25, -2.12, -1.99, -1.86, -1.73, -1.6, -1.47, -1.34, -1.21]),
    (-0.56, [-3.77, -3.64, -3.51, -3.38, -3.25, -3.12, -2.99, -2.86, -2.73, -2.6, -2.18, -2.05, -1.92, -1.79, -1.66, -1.53, -1.4, -1.27, -1.14]),
    (-0.65, [-3.7, -3.57, -3.44, -3.31, -3.18, -3.05, -2.92, -2.79, -2.52, -2.25, -2.12, -1.99, -1.86, -1.73, -1.6, -1.47, -1.34, -1.21]),
    (-0.72, [-3.5, -3.38, -3.25, -3.12, -2.99, -2.86, -2.73, -2.45, -2.18, -2.05, -1.92, -1.79, -1.66, -1.53, -1.4]),
    # second pass over the same levels: the solid parts, where single points cannot be told apart
    (0.43, [-3.9, -3.77, -3.64, -3.51, -3.38, -3.25, -3.12, -2.99, -2.86, -2.33, -2.18, -2.05, -1.92, -1.79, -1.66, -1.53, -1.4, -1.27, -1.14]),
    (0.34, [-4.1, -3.96, -3.83, -3.7, -3.57, -3.44, -3.31, -3.18, -3.05, -2.92, -2.79, -2.54, -2.12, -1.99, -1.86, -1.73, -1.6, -1.47, -1.34, -1.21, -1.08]),
    (0.25, [-4.03, -3.9, -3.77, -3.64, -3.51, -3.38, -3.25, -3.12, -2.99, -2.86, -2.73, -2.53, -2.18, -2.05, -1.92, -1.79, -1.66, -1.53, -1.4, -1.27, -1.14, -1.02]),
    (0.16, [-3.96, -3.83, -3.7, -3.57, -3.44, -3.31, -3.18, -3.05, -2.92, -2.79, -2.66, -2.38, -2.12, -1.99, -1.86, -1.73, -1.6, -1.47, -1.34, -1.21, -1.08, -0.96]),
    (0.07, [-4.03, -3.9, -3.77, -3.64, -3.51, -3.38, -3.25, -3.12, -2.99, -2.86, -2.73, -2.6, -2.18, -2.05, -1.92, -1.79, -1.66, -1.53, -1.4, -1.27, -1.14, -1.02]),
    (-0.02, [-3.96, -3.83, -3.7, -3.57, -3.44, -3.31, -3.18, -3.05, -2.92, -2.79, -2.66, -2.34, -2.12, -1.99, -1.86, -1.73, -1.6, -1.47, -1.34, -1.21, -1.08, -0.96]),
    (-0.11, [-4.03, -3.9, -3.77, -3.64, -3.51, -3.38, -3.25, -3.12, -2.99, -2.86, -2.73, -2.55, -2.18, -2.05, -1.92, -1.79, -1.66, -1.53, -1.4, -1.27, -1.14, -1.02]),
    (-0.2, [-3.96, -3.83, -3.7, -3.57, -3.44, -3.31, -3.18, -3.05, -2.92, -2.79, -2.66, -2.35, -2.12, -1.99, -1.86, -1.73, -1.6, -1.47, -1.34, -1.21, -1.08]),
    (-0.29, [-3.9, -3.77, -3.64, -3.51, -3.38, -3.25, -3.12, -2.99, -2.86, -2.73, -2.58, -2.18, -2.05, -1.92, -1.79, -1.66, -1.53, -1.4, -1.27, -1.14]),
    (-0.38, [-3.83, -3.7, -3.57, -3.44, -3.31, -3.18, -3.05, -2.92, -2.79, -2.66, -2.33, -2.12, -1.99, -1.86, -1.73, -1.6, -1.47, -1.34, -1.21, -1.08]),
    (-0.47, [-3.77, -3.64, -3.51, -3.38, -3.25, -3.12, -2.99, -2.86, -2.73, -2.55, -2.18, -2.05, -1.92, -1.79, -1.66, -1.53, -1.4, -1.27, -1.14]),
    (-0.56, [-3.7, -3.57, -3.44, -3.31, -3.18, -3.05, -2.92, -2.79, -2.66, -2.38, -2.12, -1.99, -1.86, -1.73, -1.6, -1.47, -1.34, -1.21]),
    (-0.65, [-3.5, -3.38, -3.25, -3.12, -2.99, -2.86, -2.73, -2.18, -2.05, -1.92, -1.79, -1.66, -1.53, -1.4, -1.27]),
]

W, H = 3507.0, 2480.0
DOT_TOP = dict(linestyle='none', marker='o', color='#0000FF', markersize=4.1, markeredgewidth=0, clip_on=False)
DOT_LOW = dict(linestyle='none', marker='o', color='#0000FF', markersize=4.65, markeredgewidth=0, clip_on=False)

fig = plt.figure(figsize=(W / 300, H / 300), dpi=300)


def make_axes(left, right, top, bottom):
    ax = fig.add_axes([left / W, 1 - bottom / H, (right - left) / W, (bottom - top) / H])
    ax.spines['top'].set_visible(False)
    ax.spines['right'].set_visible(False)
    ax.spines['left'].set_linewidth(0.5)
    ax.spines['bottom'].set_linewidth(0.5)
    ax.set_xscale('log')
    ax.set_xlim(1e-6, 8.1)
    ax.set_xticks(x_ticks, x_labels)
    ax.xaxis.set_minor_locator(LogLocator(base=10, subs=range(2, 10), numticks=20))
    ax.xaxis.set_minor_formatter(NullFormatter())
    ax.tick_params(which='major', length=3.6, width=0.5, labelsize=10.7)
    ax.tick_params(which='minor', length=1.8, width=0.5)
    ax.tick_params(axis='x', which='major', pad=3.2)
    ax.tick_params(axis='y', which='major', pad=2.4)
    return ax


def add_labels(ax, ylabel, ylabel_x, xlabel_y):
    for lab in ax.get_xticklabels() + ax.get_yticklabels():
        lab.set_fontweight('bold')
    box = ax.get_position()
    ax.set_xlabel(r'|$\mathtt{Δδθ}_{+}$|(mas)', fontsize=11.5, va='center')
    ax.set_ylabel(ylabel, fontsize=11.5, va='center')
    ax.xaxis.set_label_coords(box.x0 + box.width / 2, 1 - xlabel_y / H, transform=fig.transFigure)
    ax.yaxis.set_label_coords(ylabel_x / W, box.y0 + box.height / 2, transform=fig.transFigure)


# panel 1
ax = make_axes(352, 1586, 248, 1122)
ax.plot(10.0 ** np.array(band_x), sep_band, **DOT_TOP)
ax.plot(10.0 ** np.array(band_fill_x), [0.0] * len(band_fill_x), **DOT_TOP)
ax.plot(10.0 ** np.array(sep_thick_x), [3.0] * len(sep_thick_x), **DOT_TOP)
ax.plot(10.0 ** np.array(sep_thick_x), [-3.0] * len(sep_thick_x), **DOT_TOP)
ax.plot(10.0 ** np.array(sep_right_x), sep_right_y, **DOT_TOP)
ax.plot(10.0 ** np.array(sep_x), sep_y, **DOT_TOP)
ax.set_ylim(-175, 200)
ax.set_yticks([-150, -100, -50, 0, 50, 100, 150, 200])
ax.yaxis.set_minor_locator(MultipleLocator(25))
add_labels(ax, r'$\mathtt{Δθ}_{sep}$(mas)', 189, 1254)

# panel 2
ax = make_axes(2007.5, 3241, 249, 1122)
ax.plot(10.0 ** np.array(band_x[:-3]), [1.0] * len(band_x[:-3]), **DOT_TOP)
ax.plot(10.0 ** np.array(band_fill_x), [1.0] * len(band_fill_x), **DOT_TOP)
ax.plot(10.0 ** np.array(mr_x), mr_y, **DOT_TOP)
for cx, vals in mr_cone:
    ax.plot([10.0 ** cx] * len(vals), vals, **DOT_TOP)
ax.set_yscale('log', base=2)
ax.set_ylim(0.3, 11)
ax.set_yticks([0.5, 1, 2, 4, 8], ['0.5', '1', '2', '4', '8'])
ax.yaxis.set_minor_locator(FixedLocator([b * (1 + k / 9) for b in (0.25, 0.5, 1, 2, 4, 8) for k in range(1, 9)]))
ax.yaxis.set_minor_formatter(NullFormatter())
add_labels(ax, r'M$_R$', 1877, 1254)

# panel 3
ax = make_axes(352, 1586, 1422, 2294)
ax.plot(10.0 ** np.array(u0_x), 10.0 ** np.array(u0_y), **DOT_LOW)
ax.plot(10.0 ** np.array(u0_edge_x), 10.0 ** np.array(u0_edge_y), **DOT_LOW)
for ry, xs in u0_rows:
    ax.plot(10.0 ** np.array(xs), [10.0 ** ry] * len(xs), **DOT_LOW)
ax.set_yscale('log')
ax.set_ylim(0.01, 1083)
ax.set_yticks([0.01, 0.1, 1, 10, 100, 1000], ['0.01', '0.1', '1', '10', '100', '1000'])
ax.yaxis.set_minor_locator(LogLocator(base=10, subs=range(2, 10), numticks=20))
ax.yaxis.set_minor_formatter(NullFormatter())
add_labels(ax, r'u$_0$', 189, 2438)

# panel 4
ax = make_axes(2007.5, 3241, 1421, 2294)
ax.plot(10.0 ** np.array(dt_x), 10.0 ** np.array(dt_y), **DOT_LOW)
ax.plot(10.0 ** np.array(dt_edge_x), 10.0 ** np.array(dt_edge_y), **DOT_LOW)
for ry, xs in dt_rows:
    ax.plot(10.0 ** np.array(xs), [10.0 ** ry] * len(xs), **DOT_LOW)
ax.set_yscale('log')
ax.set_ylim(1e-3, 500)
ax.set_yticks([1e-3, 0.01, 0.1, 1, 10, 100], ['1E-3', '0.01', '0.1', '1', '10', '100'])
ax.yaxis.set_minor_locator(LogLocator(base=10, subs=range(2, 10), numticks=20))
ax.yaxis.set_minor_formatter(NullFormatter())
add_labels(ax, r'$\mathtt{Δ}$t$_0$ (d)', 1850, 2438)

fig.savefig('out.png', dpi=300)
